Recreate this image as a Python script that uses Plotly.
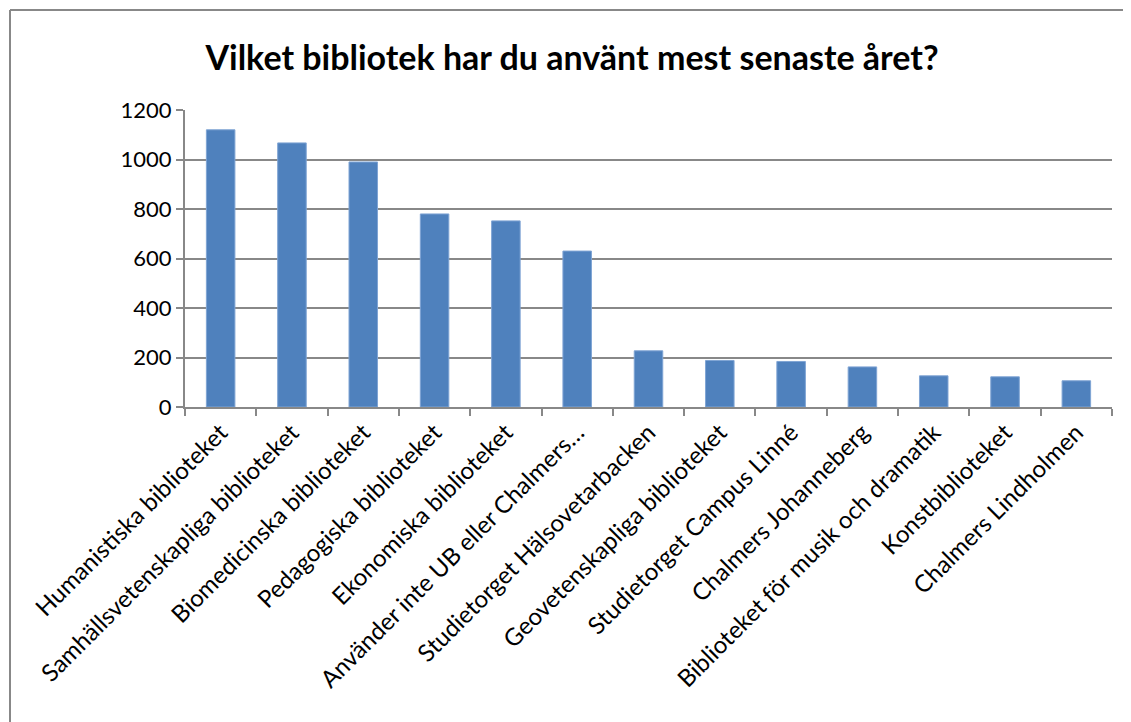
import plotly.graph_objects as go

categories = [
    "Humanistiska biblioteket",
    "Samhällsvetenskapliga biblioteket",
    "Biomedicinska biblioteket",
    "Pedagogiska biblioteket",
    "Ekonomiska biblioteket",
    "Använder inte UB eller Chalmers…",
    "Studietorget Hälsovetarbacken",
    "Geovetenskapliga biblioteket",
    "Studietorget Campus Linné",
    "Chalmers Johanneberg",
    "Biblioteket för musik och dramatik",
    "Konstbiblioteket",
    "Chalmers Lindholmen",
]
values = [1120, 1067, 990, 780, 752, 630, 227, 188, 184, 162, 126, 122, 106]
y_ticks = [0, 200, 400, 600, 800, 1000, 1200]

fig = go.Figure(go.Bar(
    x=categories, y=values,
    marker=dict(color="#4F81BD", line=dict(color="#7FA4D4", width=1)),
))

# page has an 8px body margin; figure coordinates are page - 8
OFF = 8
W, H = 1131 - OFF, 722 - OFF
L, T = 185 - OFF, 110 - OFF
R = W - (1112 - OFF)
B = H - (407 - OFF)
pw, ph = W - L - R, H - T - B

bx0 = (10 - OFF - L) / pw
bx1 = (W + 30 - L) / pw
by0 = -(H + 30 - T - ph) / ph
by1 = (H - (10 - OFF) - B) / ph
border = dict(color="#888888", width=2)

fig.update_layout(
    width=W, height=H,
    margin=dict(l=L, r=R, t=T, b=B, autoexpand=False),
    paper_bgcolor="white", plot_bgcolor="white",
    bargap=0.6,
    showlegend=False,
    font=dict(family="Lato, Liberation Sans, sans-serif", size=22, color="black"),
    title=dict(
        text="<b>Vilket bibliotek har du använt mest senaste året?</b>",
        x=(572 - OFF) / W, xref="container", xanchor="center",
        y=1 - (58 - OFF) / H, yref="container", yanchor="middle",
        font=dict(size=34, family="Lato, Liberation Sans, sans-serif", color="black"),
    ),
    shapes=[
        dict(type="line", xref="paper", yref="paper", x0=bx0, x1=bx1, y0=by1, y1=by1,
             line=border, layer="below"),
        dict(type="line", xref="paper", yref="paper", x0=bx0, x1=bx0, y0=by0, y1=by1,
             line=border, layer="below"),
    ],
)
fig.update_xaxes(
    type="category", tickangle=-45, automargin=False,
    showline=True, linecolor="#888888", linewidth=2,
    ticks="outside", tickson="boundaries", ticklen=7, tickcolor="#888888", tickwidth=2,
    showgrid=False,
    tickfont=dict(size=24),
)
fig.update_yaxes(
    range=[0, 1200], tickvals=y_ticks, automargin=False,
    showline=True, linecolor="#888888", linewidth=2,
    ticks="outside", ticklen=7, tickcolor="#888888", tickwidth=2,
    showgrid=True, gridcolor="#888888", gridwidth=2,
    tickfont=dict(size=22), zeroline=False,
)
fig.write_html(
    "out.html",
    config={"displayModeBar": False},
    post_script="document.documentElement.style.overflow='hidden';document.body.style.overflow='hidden';",
)
